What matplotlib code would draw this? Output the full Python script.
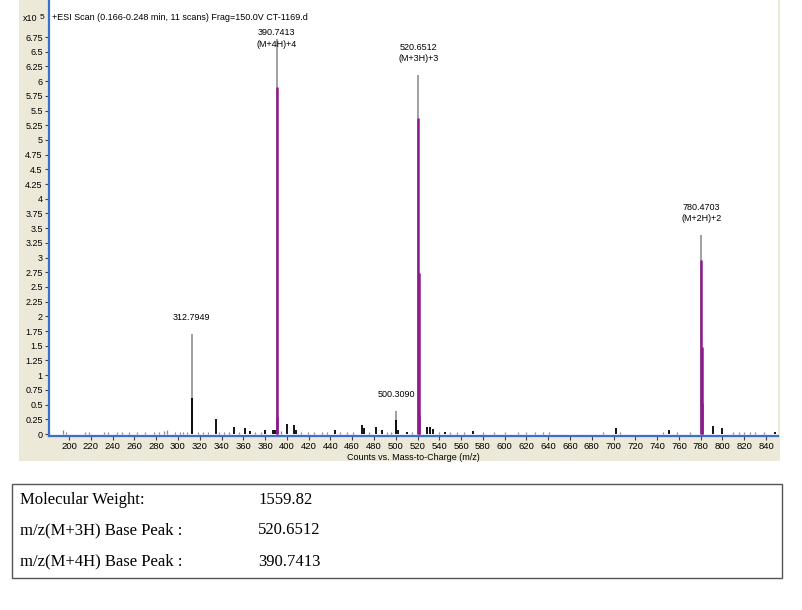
import matplotlib
matplotlib.use("Agg")
import matplotlib.pyplot as plt
from matplotlib.patches import Rectangle

# ---------------- data ----------------
# centroid sticks (grey) of labelled peaks: m/z, height (x10^5 counts)
stick_mz = [312.7949, 390.7413, 500.3090, 520.6512, 780.4703]
stick_h = [1.70, 6.72, 0.39, 6.10, 3.38]

# profile (coloured) segments of main peaks
purple_mz = [390.74, 390.95, 520.65, 520.90, 521.15, 780.47, 780.80, 781.10]
purple_h = [5.90, 0.29, 5.37, 2.74, 0.32, 2.96, 1.48, 0.53]

# black profile parts
black_mz = [312.80, 500.31, 334.6, 351.8, 361.6, 366.0, 380.0, 387.3, 389.0,
            400.4, 406.6, 408.5, 443.9, 468.7, 470.5, 481.9, 487.7, 502.0,
            510.0, 528.4, 531.5, 534.6, 545.0, 571.2, 702.3, 750.6, 791.6,
            799.3, 848.3]
black_h = [0.61, 0.23, 0.25, 0.12, 0.10, 0.05, 0.06, 0.07, 0.06,
           0.17, 0.15, 0.06, 0.07, 0.16, 0.10, 0.12, 0.07, 0.06,
           0.04, 0.12, 0.12, 0.08, 0.04, 0.05, 0.11, 0.06, 0.14,
           0.10, 0.04]

# low-level noise sticks
noise_mz = [194.2, 197.0, 215.0, 218.0, 232.0, 236.0, 244.0, 249.0, 255.0,
            262.0, 270.0, 278.0, 283.0, 287.0, 290.0, 297.0, 302.0, 305.0,
            308.0, 318.0, 323.0, 328.0, 338.0, 342.0, 347.0, 356.0, 371.0,
            376.0, 395.0, 413.0, 419.0, 425.0, 432.0, 437.0, 449.0, 455.0,
            461.0, 475.0, 492.0, 496.0, 515.0, 540.0, 550.0, 556.0, 563.0,
            580.0, 590.0, 600.0, 612.0, 620.0, 628.0, 635.0, 641.0, 690.0,
            706.0, 745.0, 758.0, 770.0, 810.0, 815.0, 820.0, 825.0, 830.0,
            838.0]
noise_h = [0.07, 0.03, 0.03, 0.03, 0.03, 0.03, 0.03, 0.03, 0.03,
           0.03, 0.03, 0.03, 0.04, 0.05, 0.07, 0.03, 0.04, 0.04,
           0.04, 0.03, 0.03, 0.04, 0.04, 0.03, 0.04, 0.04, 0.03,
           0.04, 0.05, 0.03, 0.03, 0.03, 0.03, 0.03, 0.03, 0.03,
           0.04, 0.03, 0.03, 0.04, 0.03, 0.04, 0.03, 0.03, 0.03,
           0.03, 0.03, 0.03, 0.03, 0.03, 0.03, 0.03, 0.03, 0.03,
           0.03, 0.03, 0.03, 0.03, 0.03, 0.03, 0.03, 0.03, 0.03,
           0.03]

labels_mz = [312.7949, 390.7413, 500.3090, 520.6512, 780.4703]
labels_top = ["312.7949", "390.7413", "500.3090", "520.6512", "780.4703"]
labels_sub = ["", "(M+4H)+4", "", "(M+3H)+3", "(M+2H)+2"]

xticks = list(range(200, 841, 20))
yticks = [i * 0.25 for i in range(28)]

table_keys = ["Molecular Weight:", "m/z(M+3H) Base Peak :", "m/z(M+4H) Base Peak :"]
table_vals = ["1559.82", "520.6512", "390.7413"]

# ---------------- figure ----------------
W, H = 802, 610
fig = plt.figure(figsize=(W / 100, H / 100), dpi=100)
fig.patch.set_facecolor("white")

def fx(px):
    return px / W

def fy(py):
    return 1 - py / H

BEIGE = "#ECE9D8"
BLUE = "#3A6FD0"
PURPLE = "#8E1A8E"

# beige panel as a background axes
bg = fig.add_axes([fx(19), fy(461), fx(780) - fx(19), fy(0) - fy(461)], zorder=-5)
bg.set_facecolor(BEIGE)
bg.set_xticks([])
bg.set_yticks([])
for s in bg.spines.values():
    s.set_visible(False)

ax = fig.add_axes([fx(49), fy(436), fx(778) - fx(49), fy(0) - fy(436)], zorder=1)
ax.set_facecolor("white")
ax.set_xlim(181.6, 851)
ax.set_ylim(-0.034, 7.38)

sans = ["Liberation Sans", "DejaVu Sans"]

ax.vlines(noise_mz, 0, noise_h, color="#888888", lw=0.9)
ax.vlines(stick_mz, 0, stick_h, color="#A0A0A0", lw=1.4)
ax.vlines(black_mz, 0, black_h, color="black", lw=1.3)
ax.vlines(purple_mz, 0, purple_h, color=PURPLE, lw=1.8)

# labels: placed just above the stick, clamped below the top of the plot
label_cap = 6.63
for mz, h, t1, t2 in zip(labels_mz, stick_h, labels_top, labels_sub):
    ylab = min(h + 0.28, label_cap)
    if t2:
        ax.annotate(t2, (mz, ylab), ha="center", va="center",
                    fontsize=6.5, family=sans)
        ax.annotate(t1, (mz, ylab), xytext=(0, 8.3), textcoords="offset points",
                    ha="center", va="center", fontsize=6.5, family=sans)
    else:
        ax.annotate(t1, (mz, ylab), ha="center", va="center",
                    fontsize=6.5, family=sans)

for s in ["top", "right"]:
    ax.spines[s].set_visible(False)
ax.spines["left"].set_color(BLUE)
ax.spines["left"].set_linewidth(1.6)
ax.spines["bottom"].set_color(BLUE)
ax.spines["bottom"].set_linewidth(1.6)

ax.set_xticks(xticks)
ax.set_xticklabels([str(v) for v in xticks], family=sans, fontsize=6.8)
ax.set_yticks(yticks)
ax.set_yticklabels(["%g" % v for v in yticks], family=sans, fontsize=6.5)
ax.tick_params(axis="both", direction="out", length=3, width=0.8,
               color="#444444", pad=1.5)
ax.set_xlabel("Counts vs. Mass-to-Charge (m/z)", family=sans, fontsize=6.5,
              labelpad=1)

fig.text(fx(23), fy(21), "x10", fontsize=6.5, family=sans, va="baseline")
fig.text(fx(40), fy(19), "5", fontsize=6, family=sans, va="baseline")
fig.text(fx(52), fy(20), "+ESI Scan (0.166-0.248 min, 11 scans) Frag=150.0V CT-1169.d",
         fontsize=6.5, family=sans, va="baseline", zorder=3)

# ---------------- info table ----------------
fig.patches.append(Rectangle((fx(12), fy(578)), fx(782) - fx(12), fy(484) - fy(578),
                             transform=fig.transFigure, facecolor="white",
                             edgecolor="#555555", lw=1.0, zorder=1))
serif = ["Liberation Serif", "DejaVu Serif"]
for i, (k, v) in enumerate(zip(table_keys, table_vals)):
    y = 503.5 + 31 * i
    fig.text(fx(20), fy(y), k, fontsize=12, family=serif, va="baseline", zorder=2)
    fig.text(fx(258), fy(y), v, fontsize=12, family=serif, va="baseline", zorder=2)

fig.savefig("out.png", dpi=100, facecolor=fig.get_facecolor())
